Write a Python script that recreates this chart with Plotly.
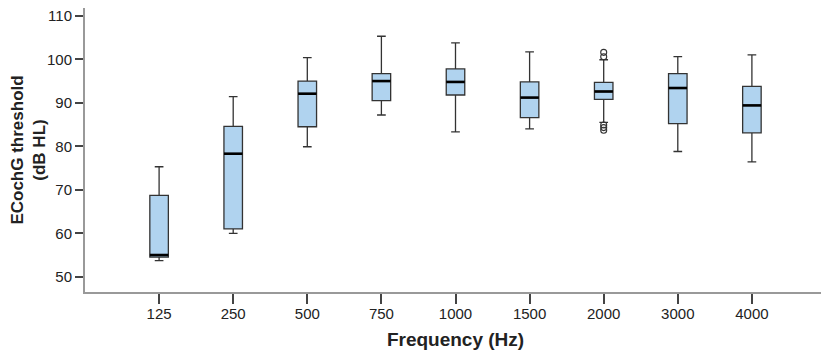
import plotly.graph_objects as go

freqs = ["125", "250", "500", "750", "1000", "1500", "2000", "3000", "4000"]
lower_whisker = [53.7, 60.0, 79.9, 87.2, 83.3, 84.0, 85.5, 78.8, 76.4]
q1 = [54.5, 61.0, 84.5, 90.5, 91.8, 86.6, 90.8, 85.2, 83.1]
median = [55.0, 78.3, 92.1, 95.0, 94.8, 91.2, 92.6, 93.4, 89.4]
q3 = [68.7, 84.6, 95.0, 96.7, 97.8, 94.8, 94.7, 96.7, 93.8]
upper_whisker = [75.3, 91.4, 100.4, 105.3, 103.8, 101.7, 99.9, 100.6, 101.0]
outlier_freq = ["2000", "2000", "2000", "2000", "2000"]
outlier_vals = [101.6, 100.6, 84.9, 84.3, 83.7]

fig = go.Figure()
fig.add_trace(go.Box(
    x=freqs, q1=q1, median=median, q3=q3,
    lowerfence=lower_whisker, upperfence=upper_whisker,
    boxpoints=False, width=0.25, whiskerwidth=0.47,
    fillcolor="#b0d3ef", line=dict(color="#333333", width=1.3),
    showlegend=False, hoverinfo="skip",
))
fig.add_trace(go.Scatter(
    x=freqs, y=median, mode="markers",
    marker=dict(symbol="line-ew", size=13.2, line=dict(color="#000000", width=2.6)),
    showlegend=False, hoverinfo="skip",
))
fig.add_trace(go.Scatter(
    x=outlier_freq, y=outlier_vals, mode="markers",
    marker=dict(symbol="circle-open", size=6, color="#333333", line=dict(width=1.1)),
    showlegend=False, hoverinfo="skip",
))

fig.update_layout(
    width=821, height=347,
    margin=dict(l=77, r=3, t=0, b=63),
    plot_bgcolor="white", paper_bgcolor="white",
    font=dict(family="Liberation Sans, Arial, sans-serif", color="#222222"),
    xaxis=dict(
        type="category", range=[-1, 9], showgrid=False, zeroline=False,
        automargin=False,
        showline=True, linecolor="#999999", linewidth=2,
        ticks="outside", ticklen=10, tickcolor="#444444", tickwidth=1.5,
        ticklabelstandoff=-3,
        tickfont=dict(size=15, color="#222222"),
        title=dict(text="<b>Frequency (Hz)</b>", font=dict(size=19, color="#222222"), standoff=12),
    ),
    yaxis=dict(
        range=[46.5, 111.8], tickvals=[50, 60, 70, 80, 90, 100, 110],
        showgrid=False, zeroline=False, automargin=False,
        ticklabeloverflow="allow",
        showline=True, linecolor="#999999", linewidth=2,
        ticks="outside", ticklen=8, tickcolor="#444444", tickwidth=1.5,
        tickfont=dict(size=15, color="#222222"),
        title=dict(text="<b>ECochG threshold<br>(dB HL)</b>", font=dict(size=17, color="#222222"), standoff=20),
    ),
)
fig.write_html("out.html")
